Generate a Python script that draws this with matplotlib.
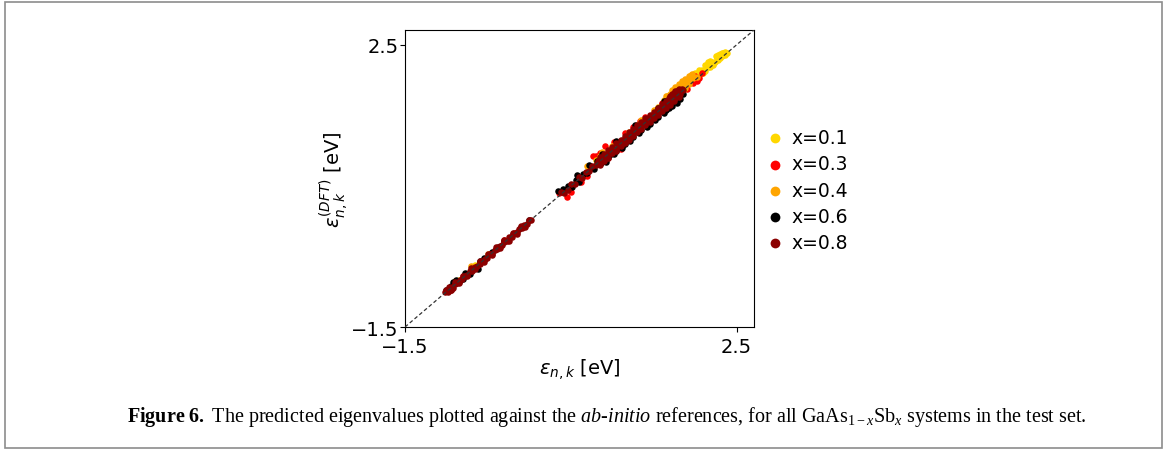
import matplotlib
matplotlib.use("Agg")
import matplotlib.pyplot as plt
from matplotlib.patches import Rectangle

plt.rcParams['mathtext.fontset'] = 'custom'
plt.rcParams['mathtext.rm'] = 'Liberation Serif'
plt.rcParams['mathtext.it'] = 'Liberation Serif:italic'
plt.rcParams['mathtext.bf'] = 'Liberation Serif:bold'

labels = ["x=0.1", "x=0.3", "x=0.4", "x=0.6", "x=0.8"]
colors = ["#ffd700", "#ff0000", "#ffa500", "#000000", "#8b0000"]

# x = 0.1 (yellow)
x01 = [1.90, 1.94, 1.97, 2.00, 2.03, 2.06, 2.09, 2.12, 2.15, 2.18, 2.21, 2.24, 2.27, 2.30, 2.33, 2.36, 2.38,
       2.02, 2.08, 2.14, 2.20, 2.26, 2.32, 2.36, 1.96, 2.10, 2.22, 1.92, 2.05,
       1.95, 2.00, 2.05, 2.15, 2.25, 2.30, 2.34, 2.28, 2.18, 2.12,
       -0.68, -0.65, -0.85, -0.95]
y01 = [1.93, 1.96, 2.01, 2.02, 2.06, 2.08, 2.12, 2.13, 2.18, 2.19, 2.23, 2.25, 2.29, 2.31, 2.34, 2.36, 2.38,
       2.09, 2.15, 2.21, 2.26, 2.32, 2.38, 2.40, 2.05, 2.10, 2.21, 2.00, 2.12,
       2.07, 2.10, 2.15, 2.25, 2.34, 2.37, 2.39, 2.35, 2.27, 2.21,
       -0.65, -0.62, -0.83, -0.93]

# x = 0.3 (red)
x03 = [0.36, 0.45, 0.62, 0.77, 0.91, 0.85, 1.02, 1.15, 1.10, 1.25, 1.40, 1.60, 1.75, 1.95, 1.98, 2.02, 2.05,
       2.08, 1.90, 0.70, -0.60, -0.30, -0.80, 0.50, 0.95, 2.00, 1.93, 0.80, 1.33]
y03 = [0.40, 0.34, 0.55, 0.93, 1.07, 0.97, 1.12, 1.25, 1.03, 1.33, 1.48, 1.68, 1.77, 2.02, 1.96, 1.99, 2.03,
       2.10, 1.88, 0.64, -0.58, -0.27, -0.78, 0.42, 0.90, 2.06, 2.00, 0.92, 1.42]

# x = 0.4 (orange)
x04 = [1.70, 1.74, 1.78, 1.82, 1.86, 1.90, 1.94, 1.98, 2.02, 1.80, 1.85, 1.88, 1.92, 1.62, 1.55, 0.85, 0.80,
       0.88, 1.00, 1.20, 1.35, 0.70, -0.70, -0.50, -0.90, 1.50, 1.30, 1.66, 1.76,
       1.65, 1.72, 1.80, 1.88, 1.96, 1.84, 1.76, 1.92]
y04 = [1.80, 1.84, 1.86, 1.90, 1.93, 1.97, 2.02, 2.03, 2.05, 1.82, 1.86, 1.89, 1.94, 1.72, 1.62, 0.92, 0.87,
       0.98, 1.07, 1.27, 1.43, 0.78, -0.64, -0.46, -0.85, 1.58, 1.36, 1.77, 1.88,
       1.78, 1.86, 1.95, 2.02, 2.08, 1.98, 1.90, 2.06]

# x = 0.6 (black)
x06 = [-1.00, -0.95, -0.90, -0.85, -0.80, -0.72, -0.62, -0.60, -0.55, -0.45, -0.38, -0.30, -0.20, -0.10, 0.00,
       -0.92, -0.88, -0.78,
       0.35, 0.40, 0.43, 0.47, 0.52, 0.56, 0.60, 0.65, 0.70, 0.74, 0.78, 0.82, 0.86, 0.90, 0.95, 1.00, 1.05,
       1.10, 1.15, 1.20, 1.25, 1.30, 1.35, 1.40, 1.45, 1.50, 1.55, 1.60, 1.65, 1.70, 1.75, 1.80, 1.85, 1.65,
       1.72, 1.55, 1.12, 0.98,
       0.92, 1.02, 1.12, 1.22, 1.32, 1.42, 1.52, 1.62, 1.72, 1.82, 1.78, 1.68,
       0.58, 0.72, 0.88, 1.05, 1.28, 1.62, 1.78]
y06 = [-0.97, -0.92, -0.88, -0.86, -0.82, -0.75, -0.68, -0.57, -0.52, -0.43, -0.36, -0.28, -0.18, -0.08, 0.01,
       -0.86, -0.83, -0.73,
       0.43, 0.46, 0.44, 0.50, 0.49, 0.58, 0.56, 0.67, 0.68, 0.77, 0.74, 0.85, 0.82, 0.92, 0.91, 1.03, 1.00,
       1.12, 1.10, 1.22, 1.19, 1.32, 1.29, 1.42, 1.38, 1.52, 1.47, 1.56, 1.58, 1.64, 1.70, 1.74, 1.80, 1.70,
       1.78, 1.61, 1.06, 0.95,
       0.84, 0.95, 1.04, 1.14, 1.25, 1.34, 1.44, 1.54, 1.63, 1.73, 1.67, 1.60,
       0.66, 0.80, 0.95, 1.13, 1.36, 1.70, 1.84]

# x = 0.8 (dark red)
x08 = [-1.02, -0.99, -0.96, -0.93, -0.90, -0.87, -0.84, -0.81, -0.78, -0.75, -0.72, -0.69, -0.66, -0.63,
       -0.60, -0.57, -0.54, -0.51, -0.48, -0.45, -0.42, -0.39, -0.36, -0.33, -0.30, -0.27, -0.24, -0.21,
       -0.18, -0.15, -0.12, -0.09, -0.06, -0.03, 0.00, 0.02, -1.00, -0.98, -0.95, -0.92,
       -0.97, -0.90, -0.80, -0.70, -0.60, -0.50, -0.40, -0.30, -0.20, -0.10,
       -0.94, -0.85, -0.75, -0.65, -0.55, -0.45, -0.35, -0.25, -0.15, -0.05,
       0.38, 0.42, 0.47, 0.50, 0.55, 0.60, 0.63, 0.68, 0.72, 0.76, 0.80,
       0.83, 0.86, 0.89, 0.92, 0.95, 0.98, 1.01, 1.04, 1.07, 1.10, 1.13, 1.16, 1.19, 1.22, 1.25, 1.28, 1.31,
       1.34, 1.37, 1.40, 1.43, 1.46, 1.49, 1.52, 1.55, 1.58, 1.61, 1.64, 1.67, 1.70, 1.73, 1.76, 1.79, 1.82,
       1.85, 1.72, 1.76, 1.80, 1.84, 1.68,
       0.85, 0.90, 0.95, 1.00, 1.05, 1.10, 1.15, 1.20, 1.25, 1.30, 1.35, 1.40, 1.45, 1.50, 1.55, 1.60, 1.65,
       1.70, 1.75, 1.80,
       0.85, 0.90, 0.95, 1.00, 1.05, 1.10, 1.15, 1.20, 1.25, 1.30, 1.35, 1.40, 1.45, 1.50, 1.55, 1.60, 1.65,
       1.70, 1.75, 1.80]
y08 = [-1.00, -0.99, -0.95, -0.94, -0.89, -0.88, -0.83, -0.82, -0.77, -0.76, -0.71, -0.70, -0.65, -0.64,
       -0.60, -0.57, -0.53, -0.52, -0.47, -0.46, -0.41, -0.40, -0.35, -0.34, -0.29, -0.28, -0.23, -0.22,
       -0.17, -0.16, -0.11, -0.10, -0.05, -0.04, 0.01, 0.02, -0.97, -1.01, -0.98, -0.95,
       -0.93, -0.86, -0.77, -0.67, -0.56, -0.47, -0.37, -0.27, -0.17, -0.07,
       -0.97, -0.88, -0.78, -0.68, -0.58, -0.48, -0.38, -0.28, -0.18, -0.08,
       0.41, 0.40, 0.44, 0.53, 0.52, 0.62, 0.61, 0.70, 0.71, 0.78, 0.79,
       0.85, 0.84, 0.91, 0.90, 0.97, 0.96, 1.03, 1.02, 1.09, 1.08, 1.15, 1.14, 1.21, 1.20, 1.27, 1.26, 1.33,
       1.32, 1.39, 1.38, 1.45, 1.44, 1.51, 1.50, 1.57, 1.56, 1.63, 1.62, 1.69, 1.68, 1.75, 1.74, 1.81, 1.80,
       1.86, 1.80, 1.84, 1.86, 1.88, 1.74,
       0.91, 0.95, 1.01, 1.05, 1.11, 1.15, 1.21, 1.26, 1.30, 1.36, 1.40, 1.46, 1.51, 1.55, 1.61, 1.66, 1.71,
       1.77, 1.82, 1.87,
       0.80, 0.86, 0.90, 0.96, 1.00, 1.06, 1.11, 1.15, 1.21, 1.26, 1.30, 1.36, 1.40, 1.46, 1.50, 1.56, 1.60,
       1.65, 1.70, 1.76]

series_x = [x01, x03, x04, x06, x08]
series_y = [y01, y03, y04, y06, y08]

lim = (-1.5, 2.71)

fig = plt.figure(figsize=(11.65, 4.52), dpi=100)
fig.patches.append(Rectangle((5 / 1165, 3 / 452), 1157 / 1165, 446 / 452, transform=fig.transFigure,
                             fill=False, edgecolor="#8c8c8c", linewidth=1.2))
ax = fig.add_axes([405 / 1165, 1 - 328 / 452, 349 / 1165, 297 / 452])

for xs, ys, c, lab in zip(series_x, series_y, colors, labels):
    ax.scatter(xs, ys, s=22, color=c, label=lab, linewidths=0, zorder=2)

ax.plot(lim, lim, linestyle=(0, (3, 2)), color="#333333", linewidth=0.9, zorder=3)
ax.set_xlim(lim)
ax.set_ylim(lim)
ax.set_xticks([-1.5, 2.5])
ax.set_yticks([-1.5, 2.5])
ax.set_xticklabels(["\u22121.5", "2.5"])
ax.set_yticklabels(["\u22121.5", "2.5"])
ax.tick_params(labelsize=14, length=3.5, width=0.8)
ax.tick_params(axis="y", pad=1)
ax.tick_params(axis="x", pad=3.5)
for sp in ax.spines.values():
    sp.set_linewidth(0.8)

ax.set_xlabel(r"$\varepsilon_{n,k}$ [eV]", fontsize=14, math_fontfamily="dejavusans", labelpad=0)
ax.set_ylabel(r"$\varepsilon^{(DFT)}_{n,k}$ [eV]", fontsize=14, math_fontfamily="dejavusans", labelpad=0)

ax.legend(loc="center left", bbox_to_anchor=(1.0, 0.461), frameon=False, fontsize=13.5,
          markerscale=1.5, handletextpad=0.3, labelspacing=0.38, handlelength=1.2, borderaxespad=0.1)

fig.text(127 / 1165, 1 - 417 / 452,
         r"$\mathbf{Figure\ 6.}$ The predicted eigenvalues plotted against the $\mathit{ab}$-$\mathit{initio}$"
         r" references, for all GaAs$_{1-x}$Sb$_{x}$ systems in the test set.",
         fontsize=14.5, family="Liberation Serif", va="center", ha="left")

fig.savefig("out.png", dpi=100)
